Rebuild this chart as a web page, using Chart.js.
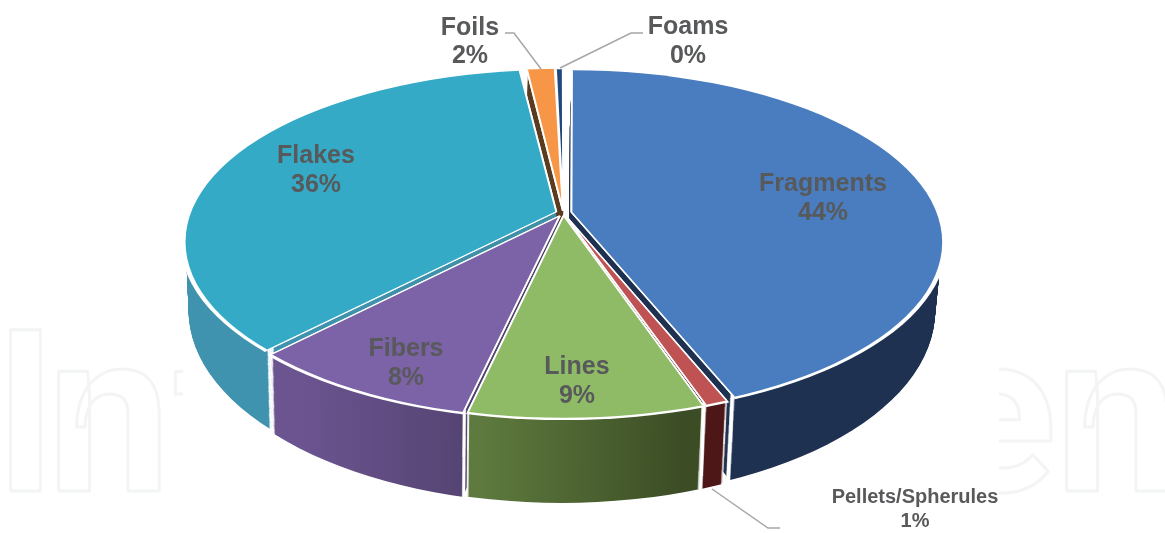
<!DOCTYPE html>
<html>
<head>
<meta charset="utf-8">
<style>
html,body{margin:0;padding:0;background:#fff;}
canvas{display:block;}
</style>
<script src="https://cdn.jsdelivr.net/npm/chart.js@4"></script>
</head>
<body>
<canvas id="pieChart" width="1165" height="533"></canvas>
<script>
const categories = ["Fragments","Pellets/Spherules","Lines","Fibers","Flakes","Foils","Foams"];
const shareValues = [43.9,0.9,8.8,8.7,35.9,1.5,0.4];
const shareLabels = ["44%","1%","9%","8%","36%","2%","0%"];

const topColors = ["#4a7dbf","#bf5353","#8fbb66","#7c62a6","#34aac6","#f79646","#1f497d"];
const sideColors = [
    ["#1f3150","#1f3150"],
    ["#4e1717","#4e1717"],
    ["#5e7a3e","#3c4d25"],
    ["#6b5490","#534370"],
    ["#3f93ae","#3f8fa8"],
    ["#5c3c1e","#5c3c1e"],
    ["#1c3358","#1c3358"]
];
const sliceOffsets = [34,24,24,30,30,20,16];

// text spots: x, name y, share y, font size
const labelSpots = [
    [823,184,213,25],
    [915,497,521,20],
    [577,367,396,25],
    [406,349,378,25],
    [316,156,185,25],
    [470,28,56,25],
    [688,27,56,25]
];
const leaderLines = [
    [[505,33],[514,33],[541,69]],
    [[643,33],[631,33],[560,68]],
    [[712,489],[768,528],[780,528]]
];
// watermark letters: text, left edge, x scale, clip from, clip to
const watermarkLetters = [
    ["I",10,0.9,0,183],
    ["n",58,0.97,0,183],
    ["t",175,1,0,183],
    ["e",941,1,999,1165],
    ["n",1066,0.97,999,1165]
];

const unitRadius = 378;
const apexShift = 65 * unitRadius / 370.75;
const wallDepth = 85;
const clearFill = "rgba(0,0,0,0)";

function drawWatermark(ctx){
    ctx.save();
    ctx.strokeStyle = "#f3f4f4";
    ctx.lineWidth = 3;
    ctx.lineJoin = "round";
    ctx.textBaseline = "alphabetic";
    ctx.font = "700 227px Roboto";
    watermarkLetters.forEach((w) => {
        const m = ctx.measureText(w[0]);
        ctx.save();
        ctx.beginPath();
        ctx.rect(w[3],300,w[4] - w[3],233);
        ctx.clip();
        ctx.translate(w[1],491);
        ctx.scale(w[2],1);
        ctx.strokeText(w[0],m.actualBoundingBoxLeft,0);
        ctx.restore();
    });
    ctx.restore();
}

// band > 0 keeps only the outer ring of the slice, used for the white wall seams
function drawSlice(ctx,arc,layer,fill,edgeWidth,clipExtra,band){
    const half = (arc.startAngle + arc.endAngle) / 2;
    const shift = arc.options.offset / 4;
    const clipX = arc.x + Math.cos(half) * shift;
    const clipY = arc.y + apexShift + Math.sin(half) * shift;
    ctx.save();
    ctx.translate(layer.cx,layer.cy);
    ctx.scale(layer.rx / unitRadius,layer.ry / unitRadius);
    ctx.translate(-arc.x,-(arc.y + apexShift));
    ctx.beginPath();
    ctx.arc(clipX,clipY,unitRadius + clipExtra,0,Math.PI * 2);
    if(band){
        ctx.moveTo(clipX + unitRadius - band,clipY);
        ctx.arc(clipX,clipY,unitRadius - band,0,Math.PI * 2);
        ctx.clip("evenodd");
    }else{
        ctx.clip();
    }
    const saved = arc.options;
    arc.options = Object.assign({},saved,{backgroundColor:fill,borderWidth:edgeWidth});
    arc.draw(ctx);
    arc.options = saved;
    ctx.restore();
}

const tiltedPie = {
    id:"tiltedPie",
    beforeDatasetsDraw(chart){
        const ctx = chart.ctx;
        const arcs = chart.getDatasetMeta(0).data;
        drawWatermark(ctx);

        const gradients = arcs.map((arc,i) => {
            const xa = arc.x + unitRadius * Math.cos(arc.startAngle);
            const xb = arc.x + unitRadius * Math.cos(arc.endAngle);
            const g = ctx.createLinearGradient(Math.min(xa,xb),0,Math.max(xa,xb) + 1,0);
            g.addColorStop(0,sideColors[i][0]);
            g.addColorStop(1,sideColors[i][1]);
            return g;
        });

        // walls: stack of layers from the bottom rim up to the top face
        for(let d = wallDepth; d >= 1; d--){
            const t = d / wallDepth;
            const layer = {cx:563.25 - 2 * t,cy:243 + 69 * t,rx:370.75 - 5 * t,ry:172 + 16 * t};
            arcs.forEach((arc,i) => {
                drawSlice(ctx,arc,layer,gradients[i],0,0,0);
                drawSlice(ctx,arc,layer,clearFill,2,0,8);
            });
        }

        const top = {cx:563.25,cy:243,rx:370.75,ry:172};
        arcs.forEach((arc) => drawSlice(ctx,arc,top,"#ffffff",2,5,0));
        arcs.forEach((arc,i) => drawSlice(ctx,arc,top,topColors[i],2,0,0));
        return false;
    },
    afterDraw(chart){
        const ctx = chart.ctx;
        ctx.save();
        ctx.strokeStyle = "#a6a6a6";
        ctx.lineWidth = 1.5;
        leaderLines.forEach((pts) => {
            ctx.beginPath();
            pts.forEach((p,i) => i ? ctx.lineTo(p[0],p[1]) : ctx.moveTo(p[0],p[1]));
            ctx.stroke();
        });
        ctx.fillStyle = "#58595b";
        ctx.textAlign = "center";
        ctx.textBaseline = "middle";
        categories.forEach((name,i) => {
            const s = labelSpots[i];
            ctx.font = `bold ${s[3]}px "Liberation Sans"`;
            ctx.fillText(name,s[0],s[1]);
            ctx.fillText(shareLabels[i],s[0],s[2]);
        });
        ctx.restore();
    }
};

new Chart(document.getElementById("pieChart").getContext("2d"),{
    type:"pie",
    data:{
        labels:categories,
        datasets:[{
            data:shareValues,
            backgroundColor:topColors,
            borderColor:"#ffffff",
            borderWidth:2,
            offset:sliceOffsets
        }]
    },
    options:{
        responsive:false,
        animation:false,
        radius:480,
        events:[],
        layout:{padding:0},
        plugins:{
            legend:{display:false},
            tooltip:{enabled:false}
        }
    },
    plugins:[tiltedPie]
});
</script>
</body>
</html>
